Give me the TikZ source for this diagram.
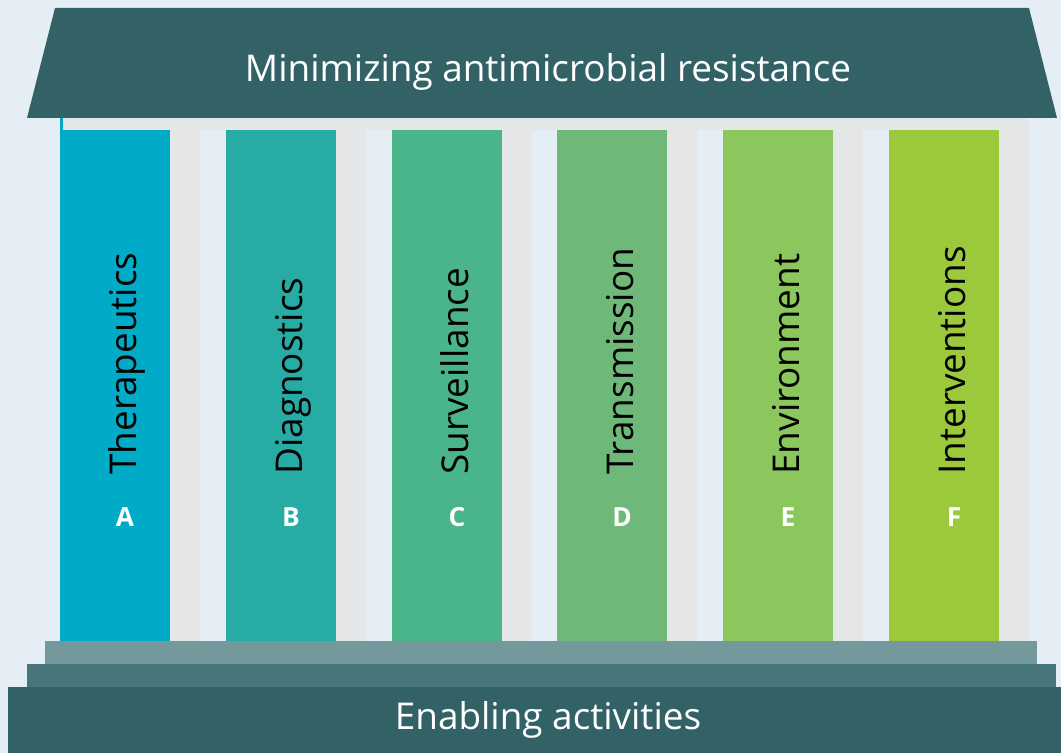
\documentclass[tikz,border=0pt]{standalone}
\usepackage{fontspec}
\setmainfont{Open Sans}
\usepackage{xcolor}
\usetikzlibrary{positioning}
\definecolor{backdrop}{HTML}{E6EEF5}
\definecolor{shadegray}{HTML}{E4E6E8}
\definecolor{roofteal}{HTML}{336266}
\definecolor{stepone}{HTML}{73999D}
\definecolor{steptwo}{HTML}{46757A}
\definecolor{colA}{HTML}{00ABC7}
\definecolor{colB}{HTML}{26ABA5}
\definecolor{colC}{HTML}{4AB48A}
\definecolor{colD}{HTML}{6EB97A}
\definecolor{colE}{HTML}{8BC75C}
\definecolor{colF}{HTML}{9CC93B}

\begin{document}
\begin{tikzpicture}[x=0.02cm, y=-0.02cm,
		pillar/.style = {inner sep=0, outer sep=0, minimum width=2.2cm, minimum height=10.46cm, anchor=north west},
		shade/.style = {fill=shadegray, inner sep=0, outer sep=0, minimum width=0.6cm, minimum height=10.46cm, anchor=north west},
		label/.style = {rotate=90, anchor=base west, inner sep=0, font=\fontsize{21}{25}\selectfont},
		letter/.style = {anchor=base, inner sep=0, text=white, font=\fontsize{15}{18}\selectfont\bfseries},
		banner/.style = {anchor=base, inner sep=0, text=white, font=\fontsize{21}{25}\selectfont}]
		\fill[backdrop] (0,0) rectangle (1061,753);
		\useasboundingbox (0,0) rectangle (1061,753);
		% shadows behind the pillars
		\node[shade] (sA) at (170,118) {};
		\node[shade] (sB) at (336,118) {};
		\node[shade] (sC) at (502,118) {};
		\node[shade] (sD) at (667,118) {};
		\node[shade] (sE) at (833,118) {};
		\node[shade] (sF) at (999,118) {};
		% pillars
		\node[pillar, fill=colA] (pA) at (60,118) {};
		\node[pillar, fill=colB] (pB) at (226,118) {};
		\node[pillar, fill=colC] (pC) at (392,118) {};
		\node[pillar, fill=colD] (pD) at (557,118) {};
		\node[pillar, fill=colE] (pE) at (723,118) {};
		\node[pillar, fill=colF] (pF) at (889,118) {};
		\fill[shadegray] (63,118) rectangle (1029,130);
		% roof
		\fill[roofteal] (55,8) -- (1029,8) -- (1057,118) -- (27,118) -- cycle;
		\node[banner] (title) at (548,82) {Minimizing antimicrobial resistance};
		% steps and base
		\fill[stepone] (45,641) rectangle (1037,664);
		\fill[steptwo] (27,664) rectangle (1056,687);
		\fill[roofteal] (8,687) rectangle (1061,753);
		\node[banner] (base) at (548,729) {Enabling activities};
		% pillar texts
		\node[label] (tA) at (136,475) {Therapeutics};
		\node[label] (tB) at (302,475) {Diagnostics};
		\node[label] (tC) at (468,475) {Surveillance};
		\node[label] (tD) at (633,475) {Transmission};
		\node[label] (tE) at (799,475) {Environment};
		\node[label] (tF) at (965,475) {Interventions};
		\node[letter] (lA) at (125,526) {A};
		\node[letter] (lB) at (291,526) {B};
		\node[letter] (lC) at (457,526) {C};
		\node[letter] (lD) at (622,526) {D};
		\node[letter] (lE) at (788,526) {E};
		\node[letter] (lF) at (954,526) {F};
	\end{tikzpicture}
\end{document}
